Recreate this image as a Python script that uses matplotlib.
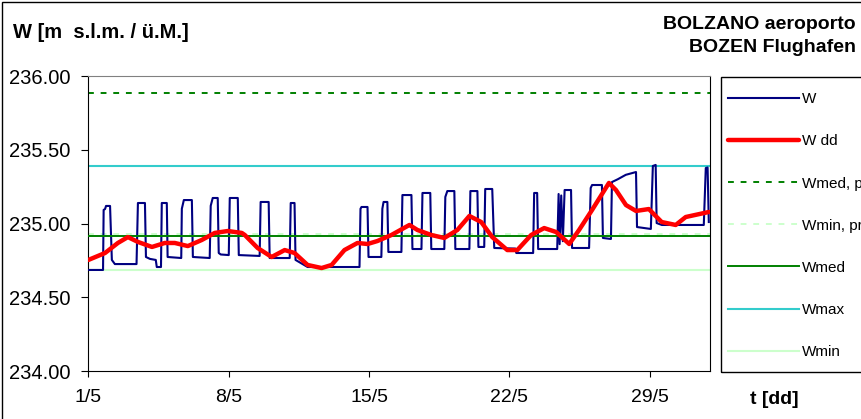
import matplotlib
matplotlib.use('Agg')
import matplotlib.pyplot as plt
from matplotlib.patches import Rectangle

plt.rcParams['font.family'] = ['Liberation Sans', 'DejaVu Sans']

# water level W, days since 1/5
t_w = [0.00, 0.73, 0.76, 0.83, 0.88, 1.08, 1.17, 1.32, 2.40,
       2.47, 2.82, 2.87, 3.07, 3.36, 3.41, 3.62,
       3.66, 3.91, 3.95, 4.63,
       4.66, 4.76, 5.16, 5.21, 6.05,
       6.10, 6.20, 6.45, 6.50, 6.60, 7.00,
       7.05, 7.45, 7.50, 8.54,
       8.59, 8.99, 9.04, 10.04,
       10.09, 10.28, 10.33, 10.93, 13.52,
       13.57, 13.62, 13.92, 13.97, 14.61,
       14.66, 14.72, 14.91, 14.96, 15.61,
       15.66, 16.11, 16.16, 16.61,
       16.66, 17.05, 17.10, 17.75,
       17.80, 17.90, 18.25, 18.30, 19.00,
       19.05, 19.40, 19.45, 19.74,
       19.79, 20.14, 20.24, 21.29, 21.34, 22.18,
       22.23, 22.38, 22.43, 23.38,
       23.45, 23.50, 23.58, 23.66, 23.75, 24.07, 24.12, 24.97,
       25.05, 25.12, 25.61, 25.66, 26.06,
       26.11, 26.40, 26.80, 27.31, 27.36, 28.05,
       28.15, 28.29, 28.34, 28.60, 30.69,
       30.79, 30.88, 30.94]
w = [234.685, 234.685, 235.092, 235.098, 235.119, 235.119, 234.753, 234.725, 234.725,
     235.139, 235.139, 234.773, 234.760, 234.753, 234.705, 234.705,
     235.139, 235.139, 234.773, 234.766,
     235.100, 235.159, 235.159, 234.773, 234.766,
     235.120, 235.173, 235.173, 234.800, 234.790, 234.786,
     235.173, 235.173, 234.786, 234.780,
     235.146, 235.146, 234.766, 234.766,
     235.139, 235.139, 234.753, 234.705, 234.705,
     235.100, 235.112, 235.112, 234.773, 234.773,
     235.100, 235.146, 235.146, 234.807, 234.807,
     235.193, 235.193, 234.827, 234.827,
     235.207, 235.207, 234.827, 234.827,
     235.180, 235.220, 235.220, 234.827, 234.827,
     235.220, 235.220, 234.841, 234.841,
     235.234, 235.234, 234.834, 234.830, 234.800, 234.800,
     235.207, 235.207, 234.827, 234.827,
     235.200, 234.860, 235.190, 234.880, 235.227, 235.227, 234.834, 234.834,
     235.241, 235.261, 235.261, 234.902, 234.895,
     235.281, 235.300, 235.330, 235.349, 234.976, 234.963,
     235.390, 235.397, 235.003, 234.990, 234.990,
     235.376, 235.380, 235.010]

# daily mean W dd
t_dd = [0.00, 0.83, 1.47, 1.97, 2.47, 3.17, 3.81, 4.31, 4.96, 5.65,
        6.30, 6.95, 7.65, 7.80, 8.44, 9.14, 9.79, 10.28, 10.93, 11.63,
        12.13, 12.77, 13.42, 13.92, 14.41, 15.11, 16.01, 16.41, 17.10, 17.75,
        18.40, 19.00, 19.59, 20.14, 20.89, 21.39, 22.08, 22.73, 23.33, 23.98,
        24.47, 25.12, 25.96, 26.31, 26.81, 27.31, 27.95, 28.59, 29.29, 29.79,
        30.94]
w_dd = [234.753, 234.800, 234.868, 234.908, 234.875, 234.841, 234.868, 234.868, 234.847, 234.888,
        234.936, 234.949, 234.936, 234.922, 234.834, 234.773, 234.820, 234.800, 234.719, 234.698,
        234.719, 234.820, 234.868, 234.861, 234.881, 234.922, 234.990, 234.956, 234.922, 234.902,
        234.956, 235.051, 235.010, 234.908, 234.820, 234.820, 234.922, 234.969, 234.942, 234.861,
        234.956, 235.092, 235.275, 235.227, 235.125, 235.085, 235.098, 235.010, 234.990, 235.044,
        235.078]

w_med_p = 235.885
w_min_p = 234.928
w_med = 234.915
w_max = 235.390
w_min = 234.685

x_ticks = [0, 7, 14, 21, 28]
x_labels = ['1/5', '8/5', '15/5', '22/5', '29/5']
y_ticks = [234.0, 234.5, 235.0, 235.5, 236.0]

fig = plt.figure(figsize=(8.61, 4.19), dpi=100)
ax = fig.add_axes([88.4 / 861, 1 - 371 / 419, (710 - 88.4) / 861, (371 - 76) / 419])

ax.plot(t_w, w, color='#000080', lw=1.5, label='W', zorder=3)
ax.plot(t_dd, w_dd, color='#ff0000', lw=3.2, label='W dd', zorder=5,
        solid_capstyle='round', solid_joinstyle='round')
ax.axhline(w_med_p, color='#008000', lw=1.4, ls=(0, (3, 3.5)), label='Wmed, prog.', zorder=2)
ax.axhline(w_min_p, color='#ccffcc', lw=1.4, ls=(0, (3, 3.5)), label='Wmin, prog.', zorder=2)
ax.axhline(w_med, color='#008000', lw=1.4, label='Wmed', zorder=4)
ax.axhline(w_max, color='#33cccc', lw=1.5, label='Wmax', zorder=2)
ax.axhline(w_min, color='#ccffcc', lw=1.5, label='Wmin', zorder=2)

ax.set_xlim(0, 31)
ax.set_ylim(234, 236)
ax.set_xticks(x_ticks)
ax.set_xticklabels(x_labels)
ax.set_yticks(y_ticks)
ax.set_yticklabels(['%.2f' % v for v in y_ticks])
ax.tick_params(axis='x', direction='out', length=4, pad=9, labelsize=14)
ax.tick_params(axis='y', direction='out', length=5, pad=8, labelsize=14.5)
for s in ['left', 'bottom', 'right']:
    ax.spines[s].set_color('black')
ax.spines['top'].set_color('#808080')

leg = ax.legend(loc='upper left', bbox_to_anchor=(727.7 / 861, 1 - 92.3 / 419),
                bbox_transform=fig.transFigure, frameon=False, fontsize=11,
                handlelength=4.68, handletextpad=0.16, labelspacing=1.84,
                borderpad=0, borderaxespad=0)

fig.patches.append(Rectangle((720.5 / 861, 1 - 372 / 419), 0.5, (372 - 76.7) / 419,
                             transform=fig.transFigure, fill=False, ec='black', lw=1))
fig.patches.append(Rectangle((2 / 861, -0.5), 2, 0.5 + 1 - 2 / 419,
                             transform=fig.transFigure, fill=False, ec='black', lw=1))

fig.text(13 / 861, 1 - 33 / 419, 'W [m  s.l.m. / ü.M.]', fontsize=14.5, fontweight='bold',
         ha='left', va='center')
fig.text(856 / 861, 1 - 24.5 / 419, 'BOLZANO aeroporto', fontsize=14, fontweight='bold',
         ha='right', va='center')
fig.text(856 / 861, 1 - 47 / 419, 'BOZEN Flughafen', fontsize=14, fontweight='bold',
         ha='right', va='center')
fig.text(774 / 861, 1 - 399 / 419, 't [dd]', fontsize=14, fontweight='bold',
         ha='center', va='center')

fig.savefig('out.png', dpi=100)
